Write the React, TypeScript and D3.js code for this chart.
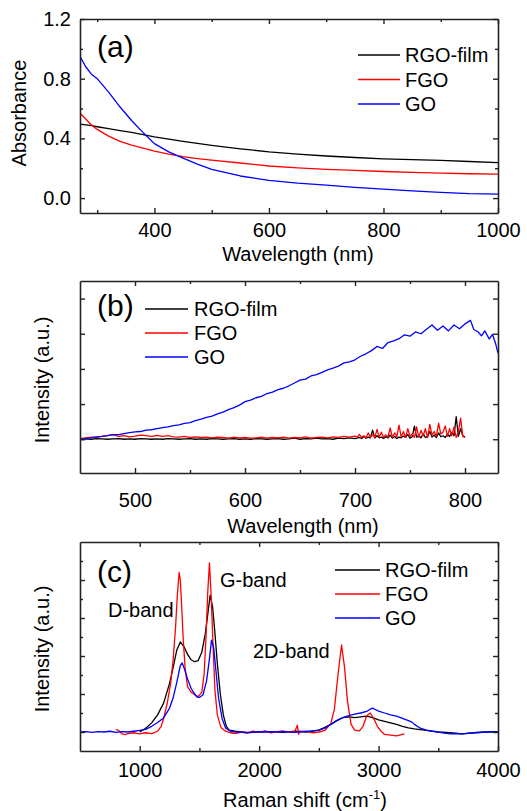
import React, { useEffect, useRef } from "react";
import * as d3 from "d3";

// ---- panel (a): UV-vis absorbance ----
const wlA = [270, 280, 290, 300, 320, 340, 360, 380, 400, 425, 450, 475, 500, 550, 600, 650, 700, 750, 800, 850, 900, 950, 1000];
const rgoA = [0.495, 0.49, 0.485, 0.478, 0.465, 0.452, 0.44, 0.425, 0.41, 0.395, 0.38, 0.366, 0.353, 0.33, 0.31, 0.295, 0.282, 0.272, 0.263, 0.257, 0.252, 0.245, 0.238];
const fgoA = [0.57, 0.53, 0.49, 0.46, 0.415, 0.38, 0.355, 0.335, 0.315, 0.295, 0.278, 0.265, 0.254, 0.235, 0.215, 0.203, 0.193, 0.185, 0.178, 0.172, 0.167, 0.163, 0.16];
const goA = [0.95, 0.88, 0.83, 0.8, 0.71, 0.61, 0.52, 0.44, 0.365, 0.31, 0.268, 0.228, 0.193, 0.148, 0.118, 0.1, 0.087, 0.072, 0.06, 0.048, 0.038, 0.03, 0.027];
const xTicksA = [400, 600, 800, 1000];
const xMinorA = [300, 500, 700, 900];
const yTicksA = [0.0, 0.4, 0.8, 1.2];
const yMinorA = [0.2, 0.6, 1.0];

// ---- panel (b): photoluminescence ----
const wlGoB = [450, 455, 460, 465, 470, 475, 480, 485, 490, 495, 500, 505, 510, 515, 520, 525, 530, 535, 540, 545, 550, 555, 560, 565, 570, 575, 580, 585, 590, 595, 600, 605, 610, 615, 620, 625, 630, 635, 640, 645, 650, 655, 660, 665, 670, 675, 680, 685, 690, 695, 700, 705, 710, 715, 720, 725, 730, 735, 740, 745, 750, 755, 760, 765, 770, 775, 780, 785, 790, 795, 800, 805, 808, 812, 815, 818, 822, 825, 828, 830];
const goB = [0.0, 0.02, 0.04, 0.07, 0.08, 0.1, 0.13, 0.13, 0.16, 0.19, 0.21, 0.22, 0.26, 0.27, 0.3, 0.33, 0.35, 0.39, 0.41, 0.45, 0.47, 0.53, 0.57, 0.62, 0.66, 0.72, 0.77, 0.84, 0.9, 0.97, 1.07, 1.11, 1.18, 1.22, 1.3, 1.34, 1.41, 1.45, 1.52, 1.6, 1.68, 1.71, 1.8, 1.84, 1.9, 1.97, 2.02, 2.08, 2.17, 2.2, 2.26, 2.36, 2.43, 2.52, 2.64, 2.58, 2.75, 2.8, 2.86, 2.97, 2.93, 3.05, 3.0, 3.13, 3.25, 3.1, 3.22, 3.08, 3.25, 3.14, 3.28, 3.38, 3.12, 3.05, 2.94, 3.08, 2.85, 2.98, 2.7, 2.45];
const wlLowB = [
  450, 455, 460, 465, 470, 475, 480, 485, 490, 495, 500, 505, 510, 515, 520, 525, 530, 535, 540, 545, 550, 555, 560, 565, 570,
  575, 580, 585, 590, 595, 600, 605, 610, 615, 620, 625, 630, 635, 640, 645, 650, 655, 660, 665, 670, 675, 680, 685, 690, 695, 700,
  702, 704, 706, 708, 710, 712, 714, 716, 718, 720, 722, 724, 726, 728, 730, 732, 734, 736, 738, 740, 742, 744, 746, 748, 750,
  752, 754, 756, 758, 760, 762, 764, 766, 768, 770, 772, 774, 776, 778, 780, 782, 784, 786, 788, 790, 792, 794, 796, 798, 800,
];
const fgoB = [
  0.02, 0.04, 0.06, 0.05, 0.08, 0.1, 0.13, 0.08, 0.1, 0.07, 0.09, 0.12, 0.1, 0.08, 0.11, 0.08, 0.1, 0.07, 0.06, 0.08,
  0.05, 0.07, 0.05, 0.06, 0.04, 0.06, 0.05, 0.03, 0.06, 0.04, 0.05, 0.03, 0.04, 0.06, 0.03, 0.05, 0.04, 0.06, 0.03, 0.05,
  0.04, 0.07, 0.03, 0.05, 0.06, 0.04, 0.07, 0.05, 0.08, 0.06, 0.09,
  0.06, 0.14, 0.05, 0.1, 0.04, 0.18, 0.06, 0.12, 0.05, 0.28, 0.06, 0.2, 0.05, 0.12, 0.06, 0.32, 0.05, 0.18, 0.07, 0.4,
  0.06, 0.22, 0.05, 0.3, 0.08, 0.15, 0.05, 0.35, 0.06, 0.25, 0.1, 0.3, 0.05, 0.42, 0.12, 0.22, 0.08, 0.46, 0.15, 0.2,
  0.38, 0.08, 0.3, 0.1, 0.35, 0.05, 0.2, 0.6, 0.08, 0.05,
];
const rgoB = [
  0.0, 0.01, 0.0, 0.02, 0.01, 0.0, 0.01, 0.02, 0.0, 0.01, 0.0, 0.02, 0.01, 0.0, 0.01, 0.0, 0.02, 0.01, 0.0, 0.01,
  0.02, 0.0, 0.01, 0.0, 0.02, 0.01, 0.0, 0.01, 0.02, 0.0, 0.01, 0.0, 0.02, 0.01, 0.0, 0.01, 0.02, 0.0, 0.01, 0.03,
  0.0, 0.02, 0.01, 0.03, 0.01, 0.02, 0.0, 0.03, 0.02, 0.04, 0.02,
  0.03, 0.05, 0.02, 0.08, 0.03, 0.06, 0.04, 0.26, 0.03, 0.1, 0.04, 0.06, 0.02, 0.07, 0.04, 0.12, 0.03, 0.08, 0.02, 0.06,
  0.04, 0.09, 0.05, 0.14, 0.03, 0.07, 0.37, 0.06, 0.1, 0.04, 0.15, 0.05, 0.08, 0.22, 0.06, 0.12, 0.05, 0.18, 0.07, 0.1,
  0.05, 0.14, 0.08, 0.2, 0.1, 0.64, 0.08, 0.3, 0.1, 0.06,
];
const xTicksB = [500, 600, 700, 800];
const xMinorB = [550, 650, 750];
const yTicksB = [0, 1, 2, 3, 4];

// ---- panel (c): Raman ----
const shiftRgoC = [1000, 1050, 1100, 1150, 1200, 1250, 1280, 1310, 1340, 1370, 1400, 1430, 1460, 1490, 1520, 1550, 1570, 1590, 1610, 1630, 1650, 1675, 1700, 1725, 1750, 1800, 1900, 2000, 2100, 2200, 2300, 2400, 2500, 2550, 2600, 2650, 2700, 2750, 2800, 2850, 2900, 2950, 3000, 3050, 3100, 3150, 3200, 3250, 3300, 3400, 3500, 3600, 3700, 3800, 3900, 4000];
const rgoC = [0.0, 0.1, 0.24, 0.45, 0.76, 1.28, 1.7, 2.15, 2.37, 2.25, 2.05, 1.9, 1.85, 1.88, 2.1, 2.6, 3.1, 3.6, 3.3, 2.6, 1.8, 1.0, 0.45, 0.15, 0.05, 0.02, -0.02, 0.0, 0.01, -0.01, 0.02, 0.0, 0.05, 0.12, 0.2, 0.3, 0.38, 0.4, 0.38, 0.4, 0.42, 0.38, 0.32, 0.28, 0.24, 0.2, 0.15, 0.11, 0.08, 0.04, 0.0, -0.02, -0.05, -0.02, 0.0, 0.01];
const shiftFgoC = [800, 820, 850, 880, 900, 950, 1000, 1050, 1100, 1150, 1180, 1200, 1230, 1260, 1280, 1300, 1315, 1330, 1340, 1350, 1365, 1380, 1400, 1430, 1460, 1490, 1520, 1540, 1555, 1570, 1584, 1598, 1615, 1630, 1650, 1680, 1720, 1760, 1800, 1850, 1900, 1950, 2000, 2050, 2100, 2150, 2200, 2250, 2300, 2320, 2330, 2340, 2400, 2450, 2500, 2550, 2600, 2630, 2660, 2690, 2715, 2740, 2770, 2800, 2840, 2870, 2900, 2930, 2960, 2990, 3020, 3050, 3100, 3150, 3200, 3217];
const fgoC = [0.06, 0.05, -0.05, -0.07, -0.04, -0.02, -0.05, -0.02, -0.04, 0.02, 0.15, 0.35, 0.75, 1.3, 1.9, 2.75, 3.6, 4.2, 4.0, 3.4, 2.4, 1.7, 1.2, 1.05, 0.98, 0.93, 1.05, 1.55, 2.5, 3.7, 4.45, 3.6, 2.2, 1.1, 0.45, 0.12, 0.02, -0.02, -0.04, 0.0, -0.03, 0.02, -0.01, 0.03, -0.02, 0.01, 0.03, -0.01, 0.02, 0.18, -0.06, 0.02, 0.01, -0.02, 0.0, 0.04, 0.22, 0.6, 1.5, 2.29, 1.7, 0.8, 0.2, 0.05, 0.03, 0.15, 0.42, 0.5, 0.35, 0.15, 0.02, -0.06, -0.08, -0.1, -0.06, -0.05];
const shiftGoC = [500, 550, 600, 650, 700, 750, 800, 850, 900, 950, 1000, 1050, 1100, 1150, 1200, 1250, 1280, 1310, 1340, 1355, 1370, 1400, 1430, 1460, 1480, 1500, 1530, 1560, 1585, 1601, 1620, 1640, 1660, 1690, 1720, 1760, 1800, 1900, 2000, 2100, 2200, 2300, 2400, 2450, 2500, 2550, 2600, 2650, 2700, 2750, 2800, 2850, 2900, 2930, 2950, 2980, 3000, 3050, 3100, 3150, 3200, 3250, 3280, 3300, 3350, 3400, 3450, 3500, 3550, 3600, 3650, 3700, 3800, 3900, 4000];
const goC = [0.0, 0.01, -0.01, 0.01, 0.0, 0.02, -0.01, 0.01, 0.0, 0.02, 0.04, 0.07, 0.15, 0.25, 0.37, 0.63, 0.9, 1.3, 1.75, 1.82, 1.7, 1.4, 1.15, 1.0, 0.92, 0.91, 0.98, 1.35, 1.95, 2.42, 2.2, 1.55, 0.9, 0.35, 0.1, 0.02, 0.0, -0.01, 0.01, 0.0, 0.01, -0.01, 0.02, 0.03, 0.05, 0.1, 0.2, 0.3, 0.38, 0.43, 0.47, 0.5, 0.54, 0.6, 0.63, 0.58, 0.55, 0.5, 0.45, 0.42, 0.36, 0.3, 0.26, 0.2, 0.1, 0.05, 0.02, 0.0, -0.03, -0.05, -0.04, -0.05, -0.02, 0.0, 0.0];
const xTicksC = [1000, 2000, 3000, 4000];
const xMinorC = [1500, 2500, 3500];
const yTicksC = [0, 1, 2, 3, 4];
const yMinorC = [0.5, 1.5, 2.5, 3.5, 4.5];

const names = ["RGO-film", "FGO", "GO"];
const colors = ["#000000", "#ff0000", "#0000ff"];

const FONT = "'Liberation Sans', Arial, sans-serif";
const AXIS = "#222";

function drawPanel(svg, p) {
  const left = 80;
  const right = 498;
  const g = svg.append("g");
  const x = d3.scaleLinear().domain(p.xDomain).range([left, right]);
  const y = d3.scaleLinear().domain(p.yDomain).range([p.bottom, p.top]);

  g.append("clipPath")
    .attr("id", "clip-" + p.id)
    .append("rect")
    .attr("x", left)
    .attr("y", p.top)
    .attr("width", right - left)
    .attr("height", p.bottom - p.top);

  const line = d3
    .line()
    .x((d) => x(d[0]))
    .y((d) => y(d[1]));

  p.series.forEach((s, i) => {
    g.append("path")
      .datum(d3.zip(s.x, s.y))
      .attr("clip-path", `url(#clip-${p.id})`)
      .attr("d", line)
      .attr("fill", "none")
      .attr("stroke", colors[i])
      .attr("stroke-width", 1.3)
      .attr("stroke-linejoin", "round");
  });

  const style = (sel) => {
    sel.select(".domain").attr("stroke", AXIS).attr("stroke-width", 1.6);
    sel.selectAll(".tick line").attr("stroke", AXIS).attr("stroke-width", 1.4);
    sel.selectAll("text").attr("font-family", FONT).attr("font-size", 20).attr("fill", "#000");
  };
  const minor = (sel) => {
    sel.select(".domain").remove();
    sel.selectAll(".tick line").attr("stroke", AXIS).attr("stroke-width", 1.4);
  };

  // bottom
  g.append("g")
    .attr("transform", `translate(0,${p.bottom})`)
    .call(d3.axisBottom(x).tickValues(p.xTicks).tickSize(-5).tickSizeOuter(0).tickPadding(p.xPad).tickFormat(d3.format("d")))
    .call(style);
  g.append("g")
    .attr("transform", `translate(0,${p.bottom})`)
    .call(d3.axisBottom(x).tickValues(p.xMinor).tickSize(-3).tickFormat(() => ""))
    .call(minor);
  // top
  g.append("g")
    .attr("transform", `translate(0,${p.top})`)
    .call(d3.axisTop(x).tickValues(p.xTicks).tickSize(-5).tickSizeOuter(0).tickFormat(() => ""))
    .call(style);
  g.append("g")
    .attr("transform", `translate(0,${p.top})`)
    .call(d3.axisTop(x).tickValues(p.xMinor).tickSize(-3).tickFormat(() => ""))
    .call(minor);
  // left
  g.append("g")
    .attr("transform", `translate(${left},0)`)
    .call(
      d3.axisLeft(y).tickValues(p.yTicks).tickSize(-5).tickSizeOuter(0).tickPadding(9)
        .tickFormat(p.yLabels ? d3.format(".1f") : () => "")
    )
    .call(style);
  g.append("g")
    .attr("transform", `translate(${left},0)`)
    .call(d3.axisLeft(y).tickValues(p.yMinor).tickSize(-3).tickFormat(() => ""))
    .call(minor);
  // right
  g.append("g")
    .attr("transform", `translate(${right},0)`)
    .call(d3.axisRight(y).tickValues(p.yTicks).tickSize(-5).tickSizeOuter(0).tickFormat(() => ""))
    .call(style);
  g.append("g")
    .attr("transform", `translate(${right},0)`)
    .call(d3.axisRight(y).tickValues(p.yMinor).tickSize(-3).tickFormat(() => ""))
    .call(minor);

  // panel letter
  g.append("text")
    .attr("x", 97)
    .attr("y", p.letterY)
    .attr("font-family", FONT)
    .attr("font-size", 30)
    .text(p.letter);

  // legend
  names.forEach((n, i) => {
    const ly = p.legend.y + i * p.legend.dy;
    g.append("line")
      .attr("x1", p.legend.x1)
      .attr("x2", p.legend.x2)
      .attr("y1", ly)
      .attr("y2", ly)
      .attr("stroke", colors[i])
      .attr("stroke-width", 1.4);
    g.append("text")
      .attr("x", p.legend.tx)
      .attr("y", ly + 7)
      .attr("font-family", FONT)
      .attr("font-size", 20)
      .text(n);
  });

  // axis titles
  const xt = g.append("text")
    .attr("x", p.xTitleX)
    .attr("y", p.xTitleY)
    .attr("text-anchor", "middle")
    .attr("font-family", FONT)
    .attr("font-size", 20);
  xt.append("tspan").text(p.xTitle);
  if (p.xSup) {
    xt.append("tspan").attr("font-size", 13).attr("dy", -8).text(p.xSup);
    xt.append("tspan").attr("dy", 8).text(")");
  }

  g.append("text")
    .attr("transform", `translate(${p.yTitleX},${p.yTitleY}) rotate(-90)`)
    .attr("text-anchor", "middle")
    .attr("font-family", FONT)
    .attr("font-size", 20)
    .text(p.yTitle);

  (p.notes || []).forEach((t) => {
    g.append("text")
      .attr("x", t.x)
      .attr("y", t.y)
      .attr("font-family", FONT)
      .attr("font-size", 20)
      .text(t.text);
  });
}

export default function App() {
  const svgRef = useRef(null);

  useEffect(() => {
    const svg = d3.select(svgRef.current);
    svg.selectAll("*").remove();

    const panels = [
      {
        id: "a",
        top: 19,
        bottom: 213,
        xDomain: [270, 1000],
        yDomain: [-0.1, 1.2],
        xTicks: xTicksA,
        xMinor: xMinorA,
        yTicks: yTicksA,
        yMinor: yMinorA,
        yLabels: true,
        xPad: 10,
        series: [
          { x: wlA, y: rgoA },
          { x: wlA, y: fgoA },
          { x: wlA, y: goA },
        ],
        letter: "(a)",
        letterY: 57,
        legend: { x1: 358, x2: 400, tx: 405, y: 55, dy: 24.5 },
        xTitle: "Wavelength (nm)",
        xTitleX: 298,
        xTitleY: 261,
        yTitle: "Absorbance",
        yTitleX: 26,
        yTitleY: 113,
      },
      {
        id: "b",
        top: 281,
        bottom: 473,
        xDomain: [450, 830],
        yDomain: [-0.96, 4.5],
        xTicks: xTicksB,
        xMinor: xMinorB,
        yTicks: yTicksB,
        yMinor: [],
        yLabels: false,
        xPad: 20,
        series: [
          { x: wlLowB, y: rgoB },
          { x: wlLowB, y: fgoB },
          { x: wlGoB, y: goB },
        ],
        letter: "(b)",
        letterY: 316,
        legend: { x1: 145, x2: 188, tx: 194, y: 309, dy: 24 },
        xTitle: "Wavelength (nm)",
        xTitleX: 303,
        xTitleY: 533,
        yTitle: "Intensity (a.u.)",
        yTitleX: 49,
        yTitleY: 380,
      },
      {
        id: "c",
        top: 542,
        bottom: 751,
        xDomain: [500, 4000],
        yDomain: [-0.5, 5],
        xTicks: xTicksC,
        xMinor: xMinorC,
        yTicks: yTicksC,
        yMinor: yMinorC,
        yLabels: false,
        xPad: 12,
        series: [
          { x: shiftRgoC, y: rgoC },
          { x: shiftFgoC, y: fgoC },
          { x: shiftGoC, y: goC },
        ],
        letter: "(c)",
        letterY: 582,
        legend: { x1: 335, x2: 380, tx: 385, y: 570, dy: 24 },
        xTitle: "Raman shift (cm",
        xSup: "-1",
        xTitleX: 305,
        xTitleY: 807,
        yTitle: "Intensity (a.u.)",
        yTitleX: 49,
        yTitleY: 649,
        notes: [
          { x: 108, y: 617, text: "D-band" },
          { x: 220, y: 587, text: "G-band" },
          { x: 253, y: 658, text: "2D-band" },
        ],
      },
    ];

    panels.forEach((p) => drawPanel(svg, p));
  }, []);

  return (
    <svg
      ref={svgRef}
      width={527}
      height={811}
      style={{ position: "absolute", left: 0, top: 0, background: "#fff" }}
    />
  );
}
